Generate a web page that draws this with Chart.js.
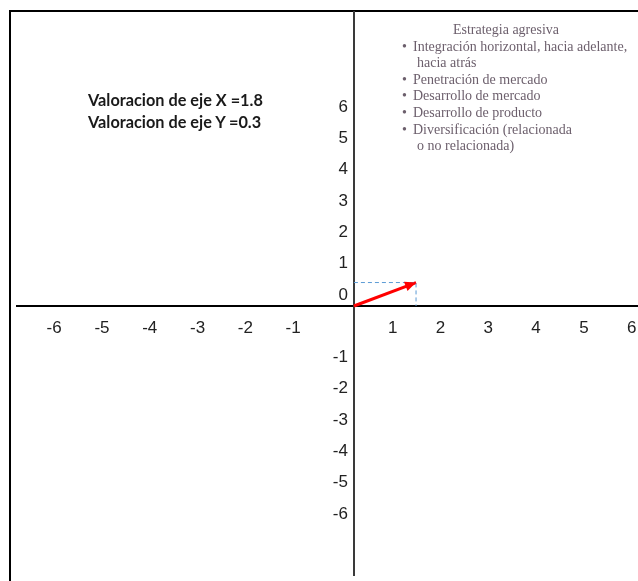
<!DOCTYPE html>
<html lang="es">
<head>
<meta charset="UTF-8">
<title>Matriz PEEA</title>
<script src="https://cdn.jsdelivr.net/npm/chart.js"></script>
<style>
  body { margin: 0; background: #fff; overflow: hidden; }
  .marco {
    position: absolute; left: 9px; top: 10px; width: 700px; height: 600px;
    border-top: 2px solid #000; border-left: 2px solid #000;
  }
  .caja { position: absolute; left: 0; top: 0; width: 644px; height: 581px; }
  .valoracion {
    position: absolute; left: 88px; top: 89px;
    font: bold 16.3px Lato, "Open Sans", sans-serif; color: #1a1a1a; line-height: 21.5px;
  }
  .estrategia {
    position: absolute; left: 398px; top: 22px; width: 260px;
    font: 14px "Liberation Serif", serif; color: #6c5f6c; line-height: 16.6px;
  }
  .estrategia .titulo { width: 216px; text-align: center; }
  .estrategia ul { margin: 0; padding: 0 0 0 15px; list-style: none; }
  .estrategia li { position: relative; }
  .estrategia li:before { content: "•"; position: absolute; left: -11px; }
  .estrategia .sig { padding-left: 4px; }
</style>
</head>
<body>
<div class="marco"></div>
<div class="caja"><canvas id="graficoEjes" width="644" height="581"></canvas></div>

<div class="valoracion">
  <div>Valoracion de eje X =1.8</div>
  <div>Valoracion de eje Y =0.3</div>
</div>

<div class="estrategia">
  <div class="titulo">Estrategia agresiva</div>
  <ul>
    <li>Integración horizontal, hacia adelante,<br><span class="sig">hacia atrás</span></li>
    <li>Penetración de mercado</li>
    <li>Desarrollo de mercado</li>
    <li>Desarrollo de producto</li>
    <li>Diversificación (relacionada<br><span class="sig">o no relacionada)</span></li>
  </ul>
</div>

<script>
// valores
var vectorX = [0, 1.3];
var vectorY = [0, 0.75];
var guiaX = [0, 1.3, 1.3];
var guiaY = [0.75, 0.75, 0];
var ticksXpos = [1, 2, 3, 4, 5, 6];
var ticksXneg = [-6, -5, -4, -3, -2, -1];
var ticksYpos = [0, 1, 2, 3, 4, 5, 6];
var ticksYneg = [-1, -2, -3, -4, -5, -6];

function puntos(xs, ys) {
  var arr = [];
  for (var i = 0; i < xs.length; i++) arr.push({ x: xs[i], y: ys[i] });
  return arr;
}

// punta de flecha en el extremo del vector
var flecha = {
  id: 'flecha',
  afterDatasetsDraw: function (chart) {
    var sx = chart.scales.x, sy = chart.scales.y;
    var n = vectorX.length - 1;
    var x0 = sx.getPixelForValue(vectorX[n - 1]), y0 = sy.getPixelForValue(vectorY[n - 1]);
    var x1 = sx.getPixelForValue(vectorX[n]), y1 = sy.getPixelForValue(vectorY[n]);
    var ang = Math.atan2(y1 - y0, x1 - x0);
    var largo = 11, ancho = 5;
    var ctx = chart.ctx;
    ctx.save();
    ctx.fillStyle = '#ff0000';
    ctx.beginPath();
    ctx.moveTo(x1, y1);
    ctx.lineTo(x1 - largo * Math.cos(ang) + ancho * Math.sin(ang), y1 - largo * Math.sin(ang) - ancho * Math.cos(ang));
    ctx.lineTo(x1 - largo * Math.cos(ang) - ancho * Math.sin(ang), y1 - largo * Math.sin(ang) + ancho * Math.cos(ang));
    ctx.closePath();
    ctx.fill();
    ctx.restore();
  }
};

var fuenteTicks = { family: 'Liberation Sans', size: 17 };

function soloEn(lista) {
  return function (v) { return lista.indexOf(v) >= 0 ? String(v) : ''; };
}

// los ejes van cruzados en el centro y no deben quitar espacio al area
function sinAltoX(s) { s.height = 0; s.paddingLeft = 0; s.paddingRight = 0; }
function sinAnchoY(s) { s.width = 0; s.paddingTop = 0; s.paddingBottom = 0; }

var rangoX = { min: -7.05, max: 6.07 };
var rangoY = { min: -8.59, max: 9.39 };

function ejeX(lista, desplaza, conLinea) {
  return {
    type: 'linear',
    position: { y: 0 },
    min: rangoX.min, max: rangoX.max,
    grid: { display: false, drawTicks: false },
    border: conLinea ? { display: true, color: '#000', width: 2 } : { display: false },
    ticks: {
      stepSize: 1, autoSkip: false, maxRotation: 0, includeBounds: false,
      labelOffset: desplaza, padding: 12,
      color: '#222', font: fuenteTicks,
      callback: soloEn(lista)
    },
    afterFit: sinAltoX
  };
}

function ejeY(lista, desplaza) {
  return {
    type: 'linear',
    position: { x: -0.125 },
    min: rangoY.min, max: rangoY.max,
    grid: { display: false, drawTicks: false },
    border: { display: false },
    ticks: {
      stepSize: 1, autoSkip: false, includeBounds: false,
      labelOffset: desplaza,
      color: '#222', font: fuenteTicks,
      callback: soloEn(lista)
    },
    afterFit: sinAnchoY
  };
}

var config = {
  type: 'scatter',
  data: {
    datasets: [
      {
        label: 'guia',
        data: puntos(guiaX, guiaY),
        showLine: true,
        borderColor: '#5b9bd5',
        borderWidth: 1,
        borderDash: [4, 3],
        pointRadius: 0,
        fill: false
      },
      {
        label: 'vector',
        data: puntos(vectorX, vectorY),
        showLine: true,
        borderColor: '#ff0000',
        borderWidth: 3,
        pointRadius: 0,
        fill: false
      }
    ]
  },
  options: {
    responsive: false,
    animation: false,
    layout: { padding: { left: 17, top: 12, right: 0, bottom: 6 } },
    plugins: { legend: { display: false }, tooltip: { enabled: false } },
    scales: {
      x: ejeX(ticksXpos, -9, true),
      xNeg: ejeX(ticksXneg, -13, false),
      y: {
        type: 'linear',
        position: { x: 0 },
        min: rangoY.min, max: rangoY.max,
        grid: { display: false, drawTicks: false },
        border: { display: true, color: '#3a3a3a', width: 2 },
        ticks: { display: false },
        afterFit: sinAnchoY
      },
      yPos: ejeY(ticksYpos, -11),
      yNeg: ejeY(ticksYneg, 20)
    }
  },
  plugins: [flecha]
};

var grafico = new Chart(document.getElementById('graficoEjes'), config);
</script>
</body>
</html>
